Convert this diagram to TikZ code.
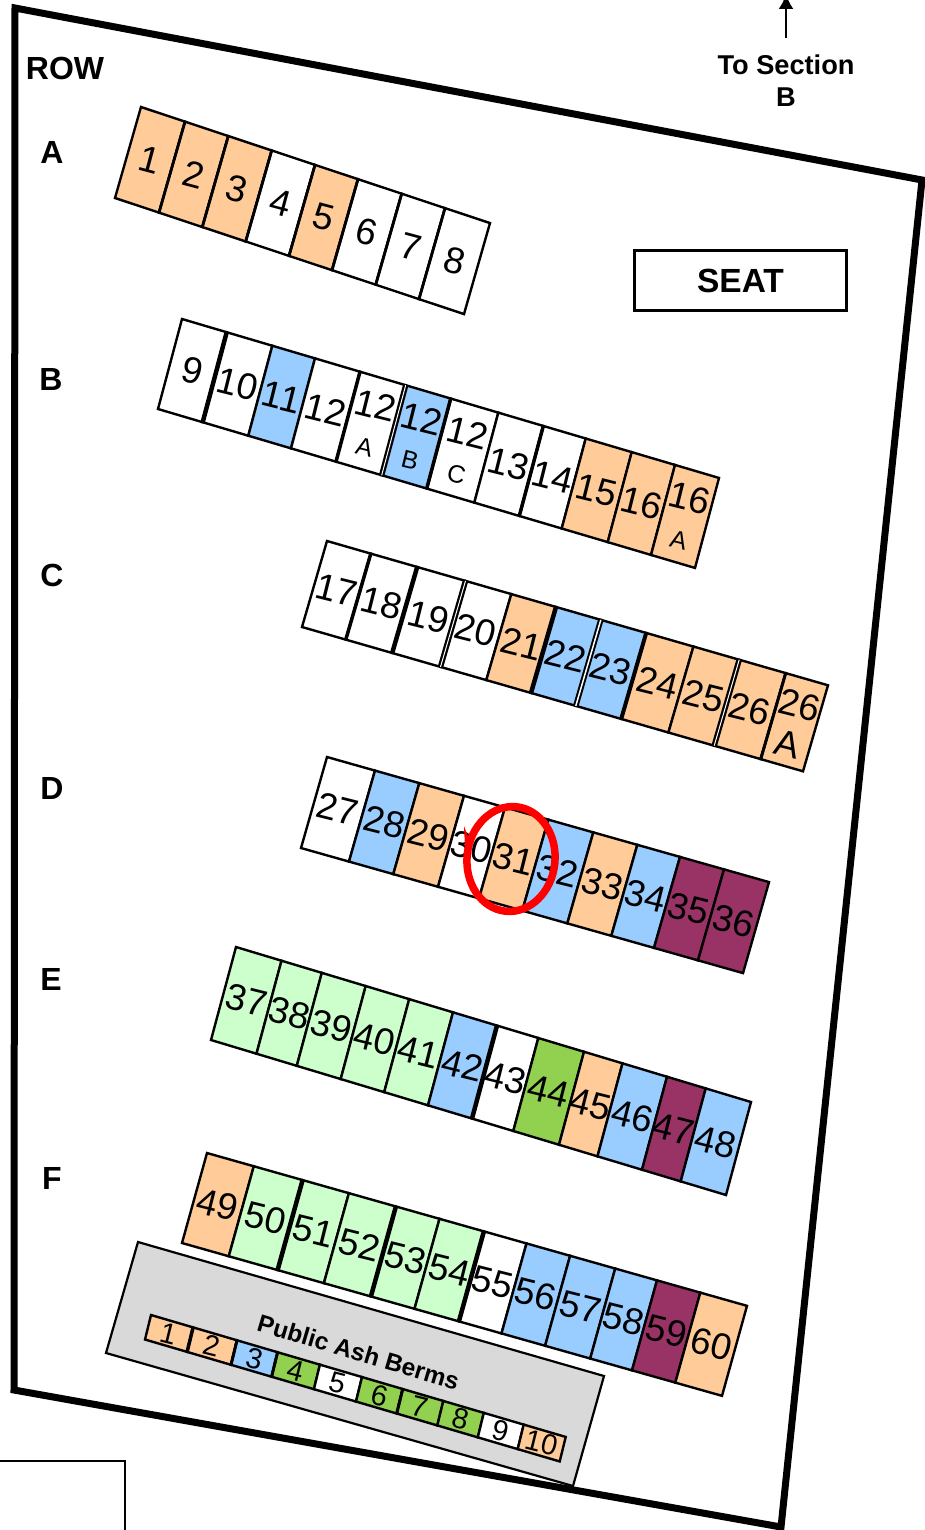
\documentclass[tikz,border=0pt]{standalone}
\usepackage{fontspec}
\usetikzlibrary{arrows.meta,shapes.geometric}
\setmainfont{Liberation Sans}
\definecolor{or}{HTML}{FFCC99}
\definecolor{bl}{HTML}{99CCFF}
\definecolor{pu}{HTML}{993366}
\definecolor{lg}{HTML}{CCFFCC}
\definecolor{gr}{HTML}{92D050}
\definecolor{wh}{HTML}{FFFFFF}
\definecolor{gy}{HTML}{D9D9D9}
\tikzset{
  seatedge/.style={draw=black,line width=2.4pt,line join=miter},
  seatnum/.style={inner sep=0pt,font=\fontsize{#1}{#1}\selectfont,text=black},
  rowlabel/.style={inner sep=0pt,font=\fontsize{32}{32}\selectfont\bfseries},
}
% x0 y0 slope ddx ddy angle numsize subsize name ; rules ; seats
\newcommand{\seatrow}[9]{%
  \def\xz{#1}\def\yz{#2}\def\slp{#3}\def\ddx{#4}\def\ddy{#5}\def\ang{#6}\def\nsz{#7}\def\ssz{#8}\def\rname{#9}%
  \seatrowcont}
\newcommand{\seatrowcont}[2]{%
  \foreach \xa/\xb/\n/\c/\s in {#2}{%
    \pgfmathsetmacro{\ya}{\yz+(\xa-\xz)*\slp}\pgfmathsetmacro{\yb}{\yz+(\xb-\xz)*\slp}%
    \path[seatedge,fill=\c] (\xa,\ya) -- (\xb,\yb) -- (\xb+\ddx,\yb+\ddy) -- (\xa+\ddx,\ya+\ddy) -- cycle;
  }%
  \foreach \xa/\wa/\wb in {#1}{%
    \pgfmathsetmacro{\ya}{\yz+(\xa-\xz)*\slp}%
    \draw[line width=\wa pt] (\xa,\ya) -- (\xa+\ddx,\ya+\ddy);
    \ifdim\wb pt>0pt \draw[white,line width=\wb pt] (\xa,\ya) -- (\xa+\ddx,\ya+\ddy);\fi
  }%
  \foreach \xa/\xb/\n/\c/\s [count=\i from 1] in {#2}{%
    \pgfmathsetmacro{\cx}{0.5*\xa+0.5*\xb+0.5*\ddx}%
    \pgfmathsetmacro{\cy}{\yz+(0.5*\xa+0.5*\xb-\xz)*\slp+0.5*\ddy}%
    \if-\s
      \node[seatnum=\nsz,rotate=\ang] (\rname\i) at (\cx,\cy) {\n};
    \else
      \node[seatnum=\nsz,rotate=\ang] (\rname\i) at (\cx-0.2*\ddx,\cy-0.2*\ddy) {\n};
      \node[seatnum=\ssz,rotate=\ang] (\rname\i s) at (\cx+0.26*\ddx,\cy+0.26*\ddy) {\s};
    \fi
  }%
}
\begin{document}
\begin{tikzpicture}[x=1pt,y=-1pt]
\useasboundingbox (0,0) rectangle (924,1530);
% outer outline
\path[draw=black,line width=7pt,line join=miter] (15,8) -- (922,180) -- (781,1527) -- (14,1390) -- cycle;
\path[draw=black,line width=2.2pt] (0,1461) -- (125,1461) -- (125,1530);
% labels
\node[rowlabel] (lrow) at (65,68) {ROW};
\node[rowlabel] (la) at (52,152) {A};
\node[rowlabel] (lb) at (51,379) {B};
\node[rowlabel] (lc) at (52,575) {C};
\node[rowlabel] (ld) at (52,788) {D};
\node[rowlabel] (le) at (51,979) {E};
\node[rowlabel] (lf) at (52,1178) {F};
\node[inner sep=0pt,align=center,font=\fontsize{27.2}{32}\selectfont\bfseries] (sect) at (786,81) {To Section\\B};
\coordinate (arrowtop) at (786,-6);
\draw[line width=2.4pt,-{Latex[length=15pt,width=15pt]}] (786,38) -- (arrowtop);
\node[draw=black,line width=2.4pt,minimum width=212pt,minimum height=60pt,inner sep=0pt,font=\fontsize{33.5}{33.5}\selectfont\bfseries] (seat) at (740.5,280.5) {SEAT};
% rows
\seatrow{141}{107}{.3326}{-26}{91}{-15}{37}{24}{A}{185/2.8/0,228.3/2.8/0,271.7/2.8/0,315/2.8/0,358/2.8/0,401.7/2.8/0,445/2.8/0}{141/185/1/or/-,185/228.3/2/or/-,228.3/271.7/3/or/-,271.7/315/4/wh/-,315/358/5/or/-,358/401.7/6/wh/-,401.7/445/7/wh/-,445/490/8/wh/-}
\seatrow{182}{319}{.296}{-24}{90}{-14}{37}{25}{B}{226.7/4.5/0,360/3.5/0,405.7/5.5/1,450.7/3.5/0,543.3/3.5/0}{182/226.7/9/wh/-,226.7/272.3/10/wh/-,272.3/315/11/bl/-,315/360/12/wh/-,360/405.7/12/wh/A,405.7/451/12/bl/B,451/498.3/12/wh/C,498.3/543.3/13/wh/-,543.3/585.7/14/wh/-,585.7/631.7/15/or/-,631.7/675/16/or/-,675/719/16/or/A}
\seatrow{327}{541}{.288}{-25}{86}{-14}{37}{37}{C}{370.8/3.5/0,417.2/4.5/0,465.5/5.5/1,556/4.5/0,600.8/5.5/1.5,646.2/4/0,739.2/5.5/1,785.7/3/0}{327/370.8/17/wh/-,370.8/417.2/18/wh/-,417.2/465.5/19/wh/-,465.5/511.3/20/wh/-,511.3/556/21/or/-,556/600.8/22/bl/-,600.8/646.2/23/bl/-,646.2/693.4/24/or/-,693.4/739.2/25/or/-,739.2/785.7/26/or/-,785.7/828/26/or/A}
\seatrow{327}{757}{.283}{-26}{91}{-14}{37}{25}{D}{}{327/375/27/wh/-,375/419.3/28/bl/-,419.3/464/29/or/-,464/505/30/wh/-,505/548.3/31/or/-,548.3/593.3/32/bl/-,593.3/637.3/33/or/-,637.3/680/34/bl/-,680/724/35/pu/-,724/769/36/pu/-}
\seatrow{236}{947}{.301}{-25}{93}{-14}{37}{25}{E}{497/4.5/0}{236/281.5/37/lg/-,281.5/321.8/38/lg/-,321.8/365.7/39/lg/-,365.7/409.2/40/lg/-,409.2/453/41/lg/-,453/497/42/bl/-,497/538.3/43/wh/-,538.3/584/44/gr/-,584/622.5/45/or/-,622.5/667/46/bl/-,667/705.7/47/pu/-,705.7/751/48/bl/-}
\seatrow{207}{1153}{.283}{-25}{90}{-14}{37}{25}{F}{302.6/4.5/0,395.9/4.5/0,483.9/4.5/0}{207/253.8/49/or/-,253.8/302.6/50/lg/-,302.6/348.9/51/lg/-,348.9/395.9/52/lg/-,395.9/439.5/53/lg/-,439.5/483.9/54/lg/-,483.9/526.5/55/wh/-,526.5/570.1/56/bl/-,570.1/615.2/57/bl/-,615.2/657/58/bl/-,657/700.3/59/pu/-,700.3/747/60/or/-}
% public ash berms
\path[draw=black,line width=2.2pt,fill=gy] (138,1242) -- (604,1376) -- (573,1486) -- (106,1353) -- cycle;
\node[inner sep=0pt,rotate=-16.5,font=\fontsize{24.4}{24.4}\selectfont\bfseries] (berms) at (358.5,1352) {Public Ash Berms};
\seatrow{151}{1315}{.294}{-6}{24.5}{-14}{29}{20}{P}{193.1/3.5/0,237/3/0,277.6/3/0,402.7/3/0}{151/193.1/1/or/-,193.1/237/2/or/-,237/277.6/3/bl/-,277.6/319.9/4/gr/-,319.9/362/5/wh/-,362/402.7/6/gr/-,402.7/443.3/7/gr/-,443.3/483.8/8/gr/-,483.8/523.7/9/wh/-,523.7/565.7/10/or/-}
% red ellipse
\node[draw=red,line width=7.5pt,ellipse,rotate=-6,minimum width=88pt,minimum height=105pt,inner sep=0pt] (ring) at (511,859) {};
\path[fill=red] (464,826) -- (470,842) -- (465,848) -- cycle;
\end{tikzpicture}
\end{document}
